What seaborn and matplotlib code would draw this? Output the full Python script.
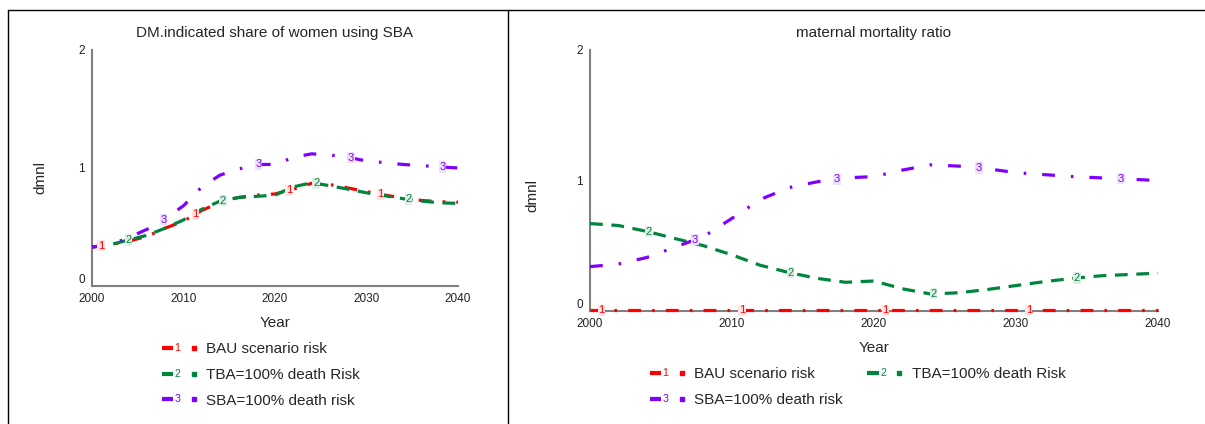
import numpy as np
import pandas as pd
import matplotlib
matplotlib.use("Agg")
import matplotlib.pyplot as plt
import seaborn as sns
from matplotlib.lines import Line2D
from matplotlib.text import Text
from matplotlib.legend_handler import HandlerBase

# data
years = [2000, 2002, 2004, 2006, 2008, 2010, 2012, 2014, 2016, 2018, 2020,
         2022, 2024, 2026, 2028, 2030, 2032, 2034, 2036, 2038, 2040]

scenarios = ["BAU scenario risk", "TBA=100% death Risk", "SBA=100% death risk"]
numbers = ["1", "2", "3"]

# DM.indicated share of women using SBA
share_bau = [0.33, 0.35, 0.38, 0.42, 0.49, 0.55, 0.64, 0.71, 0.75, 0.77, 0.78,
             0.82, 0.87, 0.86, 0.83, 0.80, 0.77, 0.745, 0.725, 0.715, 0.71]
share_tba = [0.33, 0.35, 0.39, 0.43, 0.49, 0.56, 0.65, 0.72, 0.75, 0.76, 0.77,
             0.84, 0.875, 0.85, 0.82, 0.79, 0.765, 0.74, 0.72, 0.705, 0.70]
share_sba = [0.33, 0.35, 0.41, 0.48, 0.57, 0.68, 0.84, 0.94, 0.99, 1.03, 1.03,
             1.09, 1.12, 1.11, 1.09, 1.06, 1.045, 1.03, 1.02, 1.01, 1.00]

# maternal mortality ratio
mmr_bau = [0.006, 0.006, 0.006, 0.006, 0.006, 0.006, 0.006, 0.006, 0.006, 0.006, 0.006,
           0.006, 0.006, 0.006, 0.006, 0.006, 0.006, 0.006, 0.006, 0.006, 0.006]
mmr_tba = [0.67, 0.655, 0.61, 0.555, 0.50, 0.43, 0.35, 0.295, 0.25, 0.22, 0.23,
           0.17, 0.13, 0.14, 0.165, 0.195, 0.225, 0.25, 0.27, 0.28, 0.29]
mmr_sba = [0.34, 0.36, 0.41, 0.49, 0.57, 0.71, 0.855, 0.945, 0.99, 1.02, 1.03,
           1.08, 1.12, 1.11, 1.09, 1.06, 1.045, 1.03, 1.02, 1.01, 1.00]

# years where the series numbers sit on the lines
share_label_years = [[2001, 2011.3, 2021.5, 2031.5], [2004, 2014.3, 2024.5, 2034.6],
                     [2007.8, 2018.2, 2028.3, 2038.3]]
mmr_label_years = [[2000.8, 2010.7, 2020.8, 2030.9], [2004.1, 2014.1, 2024.2, 2034.3],
                   [2007.4, 2017.4, 2027.4, 2037.4]]

palette = {scenarios[0]: "#ff0000", scenarios[1]: "#00853f", scenarios[2]: "#8000ff"}
tints = {scenarios[0]: "#ffe4e4", scenarios[1]: "#ddefe5", scenarios[2]: "#eee0ff"}
dashes = {scenarios[0]: (4, 3.5, 0.8, 3.5), scenarios[1]: (4, 2.7),
          scenarios[2]: (4, 5, 0.8, 5)}

sns.set_style("white")
plt.rcParams["font.family"] = ["Liberation Sans", "DejaVu Sans"]


class NumberedLine(HandlerBase):
    def __init__(self, num):
        super().__init__()
        self.num = num

    def create_artists(self, legend, orig_handle, xdescent, ydescent,
                       width, height, fontsize, trans):
        c = orig_handle.get_color()
        y = height / 2 - ydescent
        x0 = -xdescent
        seg = Line2D([x0, x0 + width * 0.32], [y, y], color=c, lw=3,
                     solid_capstyle="butt", transform=trans)
        num = Text(x0 + width * 0.36, y, self.num, color=c, fontsize=fontsize * 0.7,
                   va="center", ha="left", transform=trans)
        dot = Line2D([x0 + width * 0.9], [y], marker="s", ms=2.3, color=c, lw=0,
                     transform=trans)
        return [seg, num, dot]


def draw_panel(ax, series, label_years, title):
    df = pd.DataFrame({
        "Year": years * 3,
        "Value": series[0] + series[1] + series[2],
        "Scenario": [s for s in scenarios for _ in years],
    })
    sns.lineplot(data=df, x="Year", y="Value", hue="Scenario", style="Scenario",
                 hue_order=scenarios, style_order=scenarios, palette=palette,
                 dashes=dashes, linewidth=2.3, legend=False, ax=ax)
    for line in ax.get_lines():
        line.set_zorder(3)
        line.set_clip_on(False)
    for s, num, vals, yrs in zip(scenarios, numbers, series, label_years):
        for yr in yrs:
            ax.text(yr, np.interp(yr, years, vals), num, color=palette[s], fontsize=8,
                    ha="center", va="center", zorder=5,
                    bbox=dict(boxstyle="square,pad=0.05", fc=tints[s], ec="none"))
    ax.set_xlim(2000, 2040)
    ax.set_ylim(0, 2)
    ax.set_xticks([2000, 2010, 2020, 2030, 2040])
    ax.set_yticks([0, 1, 2])
    ax.tick_params(axis="both", length=0, labelsize=8.5, colors="#222222", pad=5)
    ax.get_yticklabels()[0].set_va("bottom")
    for side in ["top", "right"]:
        ax.spines[side].set_visible(False)
    for side in ["left", "bottom"]:
        ax.spines[side].set_color("#808080")
        ax.spines[side].set_linewidth(1.5)
    ax.set_title(title, fontsize=11, pad=9)
    ax.set_xlabel("Year", fontsize=11, labelpad=8)
    ax.set_ylabel("dmnl", fontsize=11)


fig = plt.figure(figsize=(12.05, 4.24), dpi=100)
ax1 = fig.add_axes([92 / 1205, 1 - 286 / 424, 366 / 1205, 236 / 424])
ax2 = fig.add_axes([590 / 1205, 1 - 311 / 424, 568 / 1205, 261 / 424])

draw_panel(ax1, [share_bau, share_tba, share_sba], share_label_years,
           "DM.indicated share of women using SBA")
draw_panel(ax2, [mmr_bau, mmr_tba, mmr_sba], mmr_label_years,
           "maternal mortality ratio")
ax1.yaxis.set_label_coords(-0.123, 0.46)
ax2.yaxis.set_label_coords(-0.090, 0.444)

handles = [Line2D([], [], color=palette[s]) for s in scenarios]
hmap = {h: NumberedLine(n) for h, n in zip(handles, numbers)}

ax1.legend(handles, scenarios, handler_map=hmap, loc="upper left",
           bbox_to_anchor=(162 / 1205, 1 - 342 / 424), bbox_transform=fig.transFigure,
           frameon=False, fontsize=11, borderpad=0, borderaxespad=0,
           handlelength=2.3, handletextpad=0.6, labelspacing=0.78)

order = [0, 2, 1]
ax2.legend([handles[i] for i in order], [scenarios[i] for i in order], handler_map=hmap,
           ncol=2, loc="upper left",
           bbox_to_anchor=(650 / 1205, 1 - 367 / 424), bbox_transform=fig.transFigure,
           frameon=False, fontsize=11, borderpad=0, borderaxespad=0,
           handlelength=2.3, handletextpad=0.6, labelspacing=0.78, columnspacing=1.6)

# panel frame lines
fig.add_artist(Line2D([8 / 1205, 1], [1 - 10 / 424, 1 - 10 / 424],
                      transform=fig.transFigure, color="black", lw=1))
fig.add_artist(Line2D([8 / 1205, 8 / 1205], [0, 1 - 10 / 424],
                      transform=fig.transFigure, color="black", lw=1))
fig.add_artist(Line2D([508 / 1205, 508 / 1205], [0, 1 - 10 / 424],
                      transform=fig.transFigure, color="black", lw=1))

fig.savefig("out.png", dpi=100)
